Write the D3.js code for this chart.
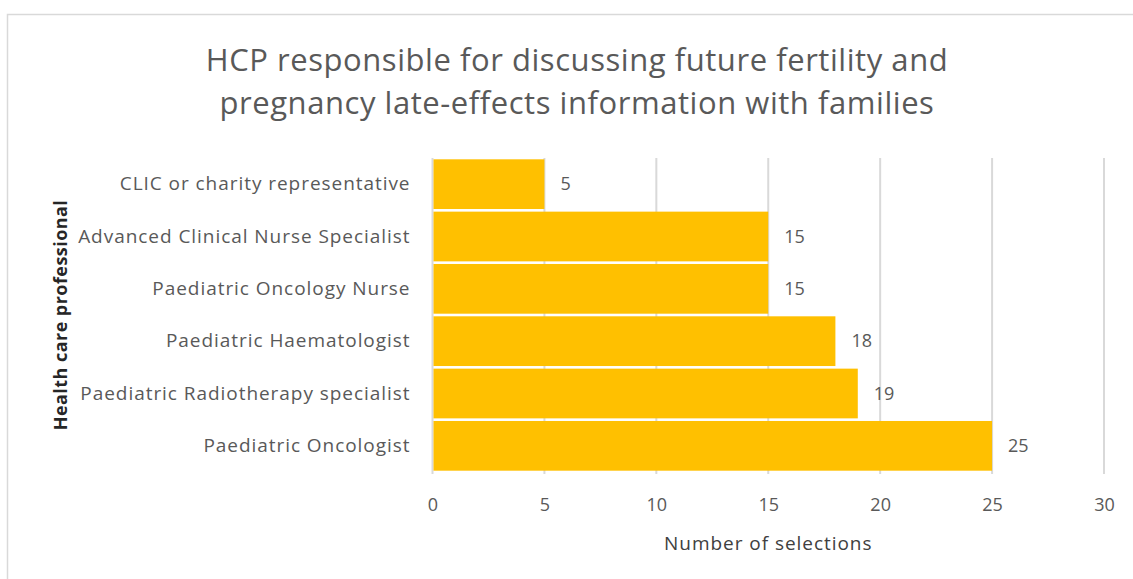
<!DOCTYPE html>
<html>
<head>
<meta charset="utf-8">
<script src="https://cdn.jsdelivr.net/npm/d3@7"></script>
<style>
  body { margin: 0; background: #fff; }
  svg { font-family: "Open Sans", sans-serif; }
</style>
</head>
<body>
<svg id="chart" width="1133" height="579"></svg>
<script>
// data, top to bottom
var categories = [
    "CLIC or charity representative",
    "Advanced Clinical Nurse Specialist",
    "Paediatric Oncology Nurse",
    "Paediatric Haematologist",
    "Paediatric Radiotherapy specialist",
    "Paediatric Oncologist"
];
var selections = [5, 15, 15, 18, 19, 25];
var x_ticks = [0, 5, 10, 15, 20, 25, 30];
var title_lines = ["HCP responsible for discussing future fertility and",
                   "pregnancy late-effects information with families"];

var svg = d3.select("#chart");
var margin = {left: 432.5, right: 1104, top: 158, bottom: 472};

// outer chart frame
svg.append("rect")
    .attr("x", 7.5).attr("y", 14.5)
    .attr("width", 1140).attr("height", 600)
    .attr("fill", "none")
    .attr("stroke", "#d9d9d9")
    .attr("stroke-width", 1.5);

var x = d3.scaleLinear()
    .domain([0, 30])
    .range([margin.left, margin.right]);

var y = d3.scaleBand()
    .domain(categories)
    .range([margin.top, margin.bottom])
    .paddingInner(0.05)
    .paddingOuter(0.025);

// gridlines
svg.append("g")
    .selectAll("line")
    .data(x_ticks)
    .enter()
    .append("line")
    .attr("x1", function(d) { return x(d); })
    .attr("x2", function(d) { return x(d); })
    .attr("y1", margin.top)
    .attr("y2", margin.bottom + 2)
    .attr("stroke", "#d9d9d9")
    .attr("stroke-width", 2);

// bars
svg.append("g")
    .selectAll("rect")
    .data(categories)
    .enter()
    .append("rect")
    .attr("x", x(0) + 1)
    .attr("y", function(d) { return y(d); })
    .attr("width", function(d, i) { return x(selections[i]) - x(0) - 1; })
    .attr("height", y.bandwidth())
    .attr("fill", "#ffc000");

// value labels
svg.append("g")
    .selectAll("text")
    .data(categories)
    .enter()
    .append("text")
    .attr("x", function(d, i) { return x(selections[i]) + 16; })
    .attr("y", function(d) { return y(d) + y.bandwidth() / 2; })
    .attr("dy", "0.35em")
    .attr("fill", "#595959")
    .style("font-size", "18px")
    .text(function(d, i) { return selections[i]; });

// category axis
var yAxis = svg.append("g")
    .attr("transform", "translate(" + (margin.left - 22) + ",0)")
    .call(d3.axisLeft(y).tickSize(0).tickPadding(0));
yAxis.select(".domain").remove();
yAxis.selectAll("text")
    .attr("fill", "#595959")
    .style("font-size", "19px")
    .style("letter-spacing", "0.95px")
    .style("font-family", "'Open Sans', sans-serif");

// value axis
var xAxis = svg.append("g")
    .attr("transform", "translate(0," + margin.bottom + ")")
    .call(d3.axisBottom(x).tickValues(x_ticks).tickSize(0).tickPadding(26));
xAxis.select(".domain").remove();
xAxis.selectAll("text")
    .attr("fill", "#595959")
    .style("font-size", "18px")
    .style("font-family", "'Open Sans', sans-serif");

// axis titles
svg.append("text")
    .attr("x", (margin.left + margin.right) / 2)
    .attr("y", 550)
    .attr("text-anchor", "middle")
    .attr("fill", "#404040")
    .style("font-size", "19px")
    .style("letter-spacing", "0.95px")
    .text("Number of selections");

svg.append("text")
    .attr("transform", "translate(67," + ((margin.top + margin.bottom) / 2) + ") rotate(-90)")
    .attr("text-anchor", "middle")
    .attr("fill", "#262626")
    .style("font-size", "18px")
    .style("letter-spacing", "0.45px")
    .style("font-weight", "bold")
    .text("Health care professional");

// title
svg.append("g")
    .selectAll("text")
    .data(title_lines)
    .enter()
    .append("text")
    .attr("x", 577)
    .attr("y", function(d, i) { return 71 + i * 43; })
    .attr("text-anchor", "middle")
    .attr("fill", "#595959")
    .style("font-size", "31px")
    .style("letter-spacing", "0.55px")
    .text(function(d) { return d; });
</script>
</body>
</html>
